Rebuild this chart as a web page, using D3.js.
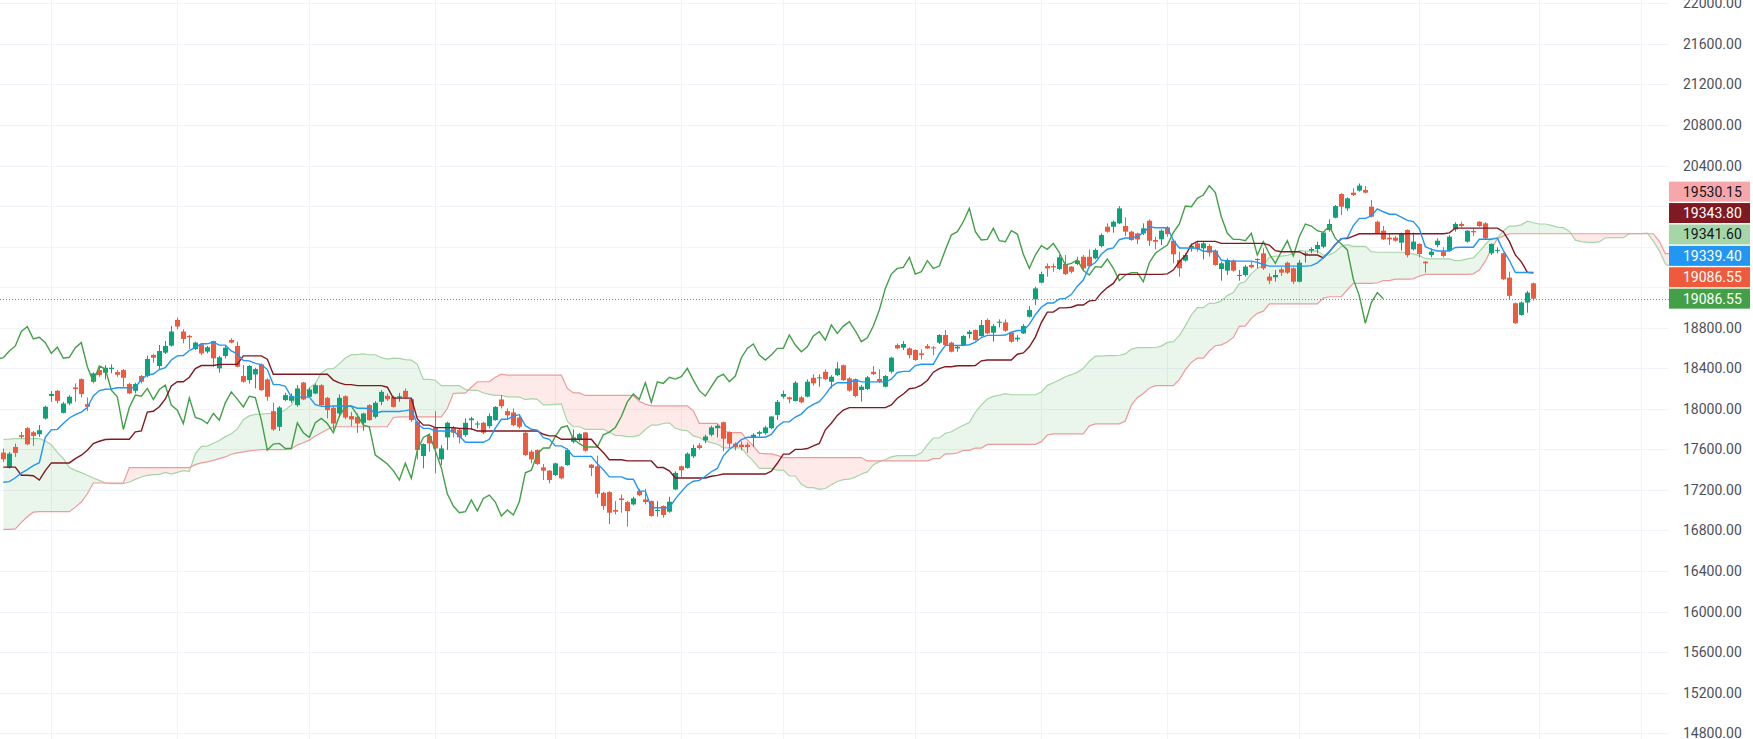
<!DOCTYPE html>
<html><head><meta charset="utf-8">
<script src="https://cdn.jsdelivr.net/npm/d3@7"></script>
<style>html,body{margin:0;padding:0;background:#fff;overflow:hidden}</style>
</head><body><svg id="c" width="1753" height="739"></svg>
<script>
// ---------- DATA (daily OHLC) ----------
const open = [
17568,17420,17624,17740,17809,17769,17749,17904,18127,18178,
17960,18052,18211,18293,18046,18267,18382,18356,18392,18362,
18382,18244,18178,18323,18323,18531,18422,18554,18623,18877,
18762,18719,18590,18636,18564,18669,18399,18521,18679,18620,
18323,18283,18339,18438,18290,17977,17822,18086,18079,18036,
18259,18118,18151,18233,18108,18010,17954,18124,17928,17921,
17862,18036,17921,18069,18128,18118,18111,18177,18095,17872,
17534,17731,17816,17501,17718,17816,17790,17741,17888,17845,
17862,17829,17888,18092,17977,17964,17914,17764,17577,17593,
17422,17390,17347,17429,17445,17675,17691,17767,17449,17433,
17171,17178,17002,17116,17080,17057,17188,17106,17090,16992,
17041,16985,17204,17433,17417,17531,17639,17688,17744,17809,
17868,17770,17656,17646,17646,17721,17754,17760,17809,17940,
18120,18113,18077,18113,18120,18306,18300,18365,18267,18332,
18430,18300,18293,18185,18195,18365,18294,18218,18366,18629,
18603,18596,18580,18547,18619,18606,18652,18728,18652,18596,
18629,18737,18777,18718,18876,18751,18849,18852,18751,18685,
18744,18908,19079,19244,19408,19408,19379,19428,19402,19428,
19500,19500,19484,19605,19796,19796,19829,19803,19747,19730,
19730,19855,19665,19672,19790,19658,19468,19462,19583,19632,
19583,19606,19560,19379,19363,19462,19310,19320,19419,19468,
19534,19304,19297,19375,19441,19386,19254,19524,19560,19576,
19599,19764,19885,20119,19977,20132,20152,20158,19994,19845,
19757,19688,19688,19639,19764,19573,19626,19451,19517,19616,
19550,19560,19770,19823,19649,19754,19846,19829,19534,19557,
19534,19294,19041,18926,19048,19238];
const high = [
17608,17575,17657,17772,17822,17782,17838,18030,18175,18185,
18069,18135,18250,18300,18112,18359,18405,18432,18438,18382,
18392,18257,18257,18333,18524,18541,18630,18669,18818,18900,
18785,18729,18663,18646,18620,18672,18521,18620,18695,18663,
18432,18432,18405,18448,18300,18059,18026,18158,18152,18234,
18265,18210,18249,18242,18118,18026,18141,18134,17970,17954,
17960,18046,18075,18183,18151,18128,18157,18200,18101,17882,
17659,17757,17977,17642,17872,17829,17806,17905,17921,17878,
17872,17954,18026,18134,18003,18003,17937,17773,17593,17600,
17455,17396,17468,17436,17609,17796,17763,17773,17455,17538,
17181,17188,17090,17155,17090,17132,17211,17211,17096,17090,
17047,17132,17384,17440,17570,17646,17662,17744,17832,17848,
17875,17777,17669,17679,17669,17760,17783,17832,17930,18087,
18179,18120,18273,18126,18290,18342,18339,18388,18332,18460,
18437,18310,18300,18234,18323,18421,18389,18333,18514,18645,
18668,18606,18586,18586,18639,18619,18737,18777,18662,18629,
18728,18777,18783,18876,18892,18836,18882,18882,18761,18727,
18836,19013,19204,19352,19434,19434,19517,19517,19408,19500,
19517,19573,19582,19730,19829,19855,20000,19888,19757,19737,
19829,19868,19697,19770,19803,19671,19550,19534,19632,19649,
19649,19626,19573,19452,19484,19474,19369,19419,19452,19484,
19583,19336,19369,19396,19452,19396,19468,19550,19593,19649,
19747,19869,20010,20126,20086,20175,20222.45,20198,20060,19856,
19803,19731,19704,19738,19770,19738,19632,19458,19583,19681,
19593,19714,19840,19845,19764,19780,19849.75,19840.95,19632,19593,
19540,19353,19048,19058,19163,19245];
const low = [
17476,17410,17525,17706,17640,17634,17723,17894,18069,18053,
17954,18036,18069,18112,17977,18260,18316,18290,18349,18316,
18217,18145,18152,18250,18310,18455,18382,18541,18613,18785,
18646,18590,18580,18531,18547,18415,18356,18498,18646,18409,
18257,18250,18201,18178,18079,17782,17782,18076,18059,18020,
18085,18111,18144,18029,17905,17790,17914,17898,17829,17763,
17783,17882,17905,18036,18078,18013,18069,18101,17872,17501,
17413,17577,17363,17445,17593,17718,17659,17724,17790,17806,
17750,17806,17882,18003,17895,17829,17806,17534,17462,17445,
17298,17265,17337,17304,17439,17659,17675,17577,17335,17122,
17002,16861,16959,16975,16838,17047,17139,17057,16936,16936,
16926,16975,17198,17328,17410,17515,17597,17662,17727,17718,
17580,17613,17590,17590,17564,17623,17727,17744,17799,17891,
18100,18054,18071,18054,18113,18228,18218,18283,18202,18323,
18274,18169,18113,18071,18185,18332,18257,18211,18349,18586,
18580,18497,18474,18487,18589,18530,18639,18622,18557,18563,
18619,18695,18672,18711,18737,18662,18803,18760,18652,18662,
18737,18902,19023,19237,19303,19352,19369,19319,19336,19418,
19369,19402,19474,19592,19737,19737,19822,19704,19658,19625,
19714,19605,19573,19616,19698,19435,19304,19452,19550,19550,
19474,19501,19412,19264,19320,19353,19264,19304,19386,19386,
19369,19231,19254,19310,19330,19231,19248,19441,19534,19534,
19583,19747,19879,19911,19954,20099,20142,20125,19888,19724,
19665,19616,19648,19560,19494,19560,19494,19343,19494,19593,
19494,19550,19747,19790,19639,19705,19796,19672,19517,19534,
19271,19081,18837.85,18920,18949,19068];
const close = [
17502,17558,17565,17723,17650,17733,17789,18020,18147,18079,
18052,18119,18194,18145,18020,18349,18333,18405,18405,18336,
18306,18152,18244,18267,18491,18504,18570,18620,18762,18811,
18689,18705,18653,18547,18607,18498,18508,18603,18653,18415,
18267,18422,18392,18184,18119,17796,18013,18135,18125,18201,
18092,18190,18233,18036,17987,17855,18108,17914,17895,17855,
17954,17888,18059,18167,18095,18019,18124,18111,17888,17593,
17652,17659,17609,17609,17862,17764,17718,17862,17905,17855,
17764,17928,18019,18026,17937,17839,17823,17544,17501,17455,
17390,17298,17462,17314,17593,17718,17750,17586,17417,17162,
17041,16975,16985,17100,16992,17116,17149,17080,16943,17002,
16953,17083,17368,17394,17557,17613,17613,17727,17816,17832,
17705,17656,17623,17623,17623,17744,17770,17816,17924,18068,
18146,18094,18257,18064,18267,18251,18310,18293,18316,18398,
18283,18179,18126,18218,18310,18342,18267,18323,18504,18596,
18639,18530,18481,18530,18596,18596,18728,18629,18563,18612,
18718,18760,18678,18826,18744,18816,18859,18770,18662,18701,
18816,18974,19188,19329,19385,19395,19494,19329,19352,19461,
19385,19408,19566,19714,19747,19845,19977,19747,19665,19671,
19780,19658,19648,19757,19724,19524,19386,19517,19609,19573,
19632,19540,19419,19435,19468,19363,19320,19402,19396,19478,
19386,19264,19320,19343,19343,19254,19441,19534,19576,19616,
19738,19823,20000,19994,20076,20109,20201,20132,19895,19731,
19671,19671,19658,19731,19517,19649,19527,19435,19550,19658,
19508,19698,19823,19803,19757,19741,19803,19681,19626,19567,
19278,19114,18844,19048,19146,19086.55];

// Indicator values for the first bars, whose look-back lies before the visible window
const tenkanPre = [17275,17282,17320,17365,17400,17440,17468,17720];
const kijunPre = [17425,17425,17425,17345,17345,17340,17297,17390,17466,17466,17466,17466,17509,17542,17591,17657,17680,17697,17700,17700,17700,17700,17773,17782,17967];
const spanAPre = [17697,17700,17705,17706,17706,17706,17706,17683,17645,17570,17510,17420,17393,17370,17344,17317,17294,17268,17261,17261,17261,17278,17304,17327,17344];
const spanBPre = [16810,16810,16815,16880,16935,16980,16985,16985,16985,16985,16985,16985,17030,17080,17162,17268,17268,17268,17268,17268,17268,17420,17420,17420,17420,17420,17420,17420,17420,17420,17420,17420,17449,17466,17476,17492,17509,17525,17552,17565,17575,17585,17591,17598,17598,17598,17598,17598,17606,17642,17665,17691,17731,17764,17796,17823,17823,17823,17823,17823,17823,17823,17823,17823,17823,17914,17921,17921,17921,17921,17921,17921,17921,17921,18003,18151];

// Price axis ticks and month-boundary grid lines (bar index)
const priceTicks = d3.range(14800, 22001, 400);
const monthTicks = [8, 29, 51, 72, 92, 113, 130, 152, 173, 194, 216, 236, 256, 273];

// ---------- INDICATORS (Ichimoku 9/26/52, displacement 26) ----------
const N = close.length, SHIFT = 25;
function mid(p, i) { let h = -Infinity, l = Infinity;
  for (let k = i - p + 1; k <= i; k++) { h = Math.max(h, high[k]); l = Math.min(l, low[k]); }
  return (h + l) / 2; }
const tenkan = d3.range(N).map(i => i < tenkanPre.length ? tenkanPre[i] : mid(9, i));
const kijun = d3.range(N).map(i => i < kijunPre.length ? kijunPre[i] : mid(26, i));
const spanA = d3.range(N + SHIFT).map(i => i < spanAPre.length ? spanAPre[i] : (tenkan[i - SHIFT] + kijun[i - SHIFT]) / 2);
const spanB = d3.range(N + SHIFT).map(i => i < spanBPre.length ? spanBPre[i] : mid(52, i - SHIFT));
const chikou = close.map((c, k) => [k - SHIFT, c]);

// ---------- DRAW ----------
const W = 1753, H = 739, PW = 1669;
const UP = "#0aa37b", DOWN = "#ef5a3c";
const svg = d3.select("#c");
const x = d3.scaleLinear().domain([0, 256]).range([3.33, 3.33 + 6 * 256]);
const y = d3.scaleLinear().domain([14800, 22000]).range([733.2, 3.3]);

const defs = svg.append("defs");
defs.append("clipPath").attr("id", "plot")
  .append("rect").attr("x", 0).attr("y", 0).attr("width", PW).attr("height", H);

const g = svg.append("g").attr("clip-path", "url(#plot)");
// grid
g.selectAll("line.h").data(priceTicks).join("line")
  .attr("x1", 0).attr("x2", PW).attr("y1", d => Math.round(y(d)) + 0.5).attr("y2", d => Math.round(y(d)) + 0.5)
  .attr("stroke", "#f0f3fa").attr("stroke-width", 1);
g.selectAll("line.v").data(monthTicks).join("line")
  .attr("y1", 0).attr("y2", H).attr("x1", d => Math.round(x(d)) + 0.5).attr("x2", d => Math.round(x(d)) + 0.5)
  .attr("stroke", "#f0f3fa").attr("stroke-width", 1);

// cloud
const idxs = d3.range(N + SHIFT);
const band = d3.area().x(i => x(i)).y0(i => y(spanA[i])).y1(i => y(spanB[i]));
defs.append("clipPath").attr("id", "aboveB").append("path")
  .attr("d", d3.area().x(i => x(i)).y0(0).y1(i => y(spanB[i]))(idxs));
defs.append("clipPath").attr("id", "belowB").append("path")
  .attr("d", d3.area().x(i => x(i)).y0(H).y1(i => y(spanB[i]))(idxs));
g.append("g").attr("clip-path", "url(#aboveB)").append("path").attr("d", band(idxs))
  .attr("fill", "rgba(67,160,71,0.11)");
g.append("g").attr("clip-path", "url(#belowB)").append("path").attr("d", band(idxs))
  .attr("fill", "rgba(244,67,54,0.11)");
const lineI = arr => d3.line().x(i => x(i)).y(i => y(arr[i]));
g.append("path").attr("d", lineI(spanA)(idxs)).attr("fill", "none").attr("stroke", "#a5d6a7").attr("stroke-width", 1.2);
g.append("path").attr("d", lineI(spanB)(idxs)).attr("fill", "none").attr("stroke", "#ef9a9a").attr("stroke-width", 1.2);

// candles
const bars = d3.range(N);
const cg = g.append("g");
cg.selectAll("line.w").data(bars).join("line")
  .attr("x1", i => Math.round(x(i)) + 0.5).attr("x2", i => Math.round(x(i)) + 0.5)
  .attr("y1", i => y(high[i])).attr("y2", i => y(low[i]))
  .attr("stroke", i => close[i] >= open[i] ? UP : DOWN).attr("stroke-width", 1);
cg.selectAll("rect").data(bars).join("rect")
  .attr("x", i => Math.round(x(i)) - 2).attr("width", 5)
  .attr("y", i => y(Math.max(open[i], close[i])))
  .attr("height", i => Math.max(1, Math.abs(y(open[i]) - y(close[i]))))
  .attr("fill", i => close[i] >= open[i] ? UP : DOWN);

// lines
g.append("path").attr("d", d3.line().x(d => x(d[0])).y(d => y(d[1]))(chikou))
  .attr("fill", "none").attr("stroke", "#43a047").attr("stroke-width", 1.4);
g.append("path").attr("d", lineI(kijun)(bars)).attr("fill", "none").attr("stroke", "#801922").attr("stroke-width", 1.4);
g.append("path").attr("d", lineI(tenkan)(bars)).attr("fill", "none").attr("stroke", "#2196f3").attr("stroke-width", 1.4);

// last price line
const lastC = close[N - 1];
g.append("line").attr("x1", 0).attr("x2", PW).attr("y1", Math.round(y(lastC)) + 0.5).attr("y2", Math.round(y(lastC)) + 0.5)
  .attr("stroke", DOWN).attr("stroke-width", 1).attr("stroke-dasharray", "1,2");

// value labels (stacked from the bottom)
const lastIdx = N + SHIFT - 1;
const labels = [
  { v: spanB[lastIdx], bg: "#f7a7a9", fg: "#131722" },
  { v: kijun[N - 1], bg: "#801922", fg: "#ffffff" },
  { v: spanA[lastIdx], bg: "#a5d6a7", fg: "#131722" },
  { v: tenkan[N - 1], bg: "#2196f3", fg: "#ffffff" },
  { v: lastC, bg: close[N - 1] >= open[N - 1] ? UP : DOWN, fg: "#ffffff" },
  { v: lastC, bg: "#43a047", fg: "#ffffff" }
];
let prev = Infinity;
for (let k = labels.length - 1; k >= 0; k--) {
  const c = Math.min(y(labels[k].v), prev - 21.4);
  labels[k].c = c; prev = c;
}

// price axis (tick labels hidden where a value label covers them)
const visibleTicks = priceTicks.filter(t => labels.every(l => Math.abs(y(t) - l.c) > 17));
const ax = svg.append("g").attr("font-family", "Roboto, sans-serif").attr("font-size", 14);
ax.selectAll("text").data(visibleTicks).join("text")
  .attr("x", 1683).attr("y", d => y(d)).attr("dy", "0.36em").attr("fill", "#4c505b")
  .text(d => d.toFixed(2));

const lg = svg.append("g").attr("font-family", "Roboto, sans-serif").attr("font-size", 14);
labels.forEach(l => {
  lg.append("rect").attr("x", PW).attr("y", l.c - 10).attr("width", 81).attr("height", 20).attr("fill", l.bg);
  lg.append("text").attr("x", 1683).attr("y", l.c).attr("dy", "0.36em").attr("fill", l.fg).text(l.v.toFixed(2));
});
</script></body></html>
